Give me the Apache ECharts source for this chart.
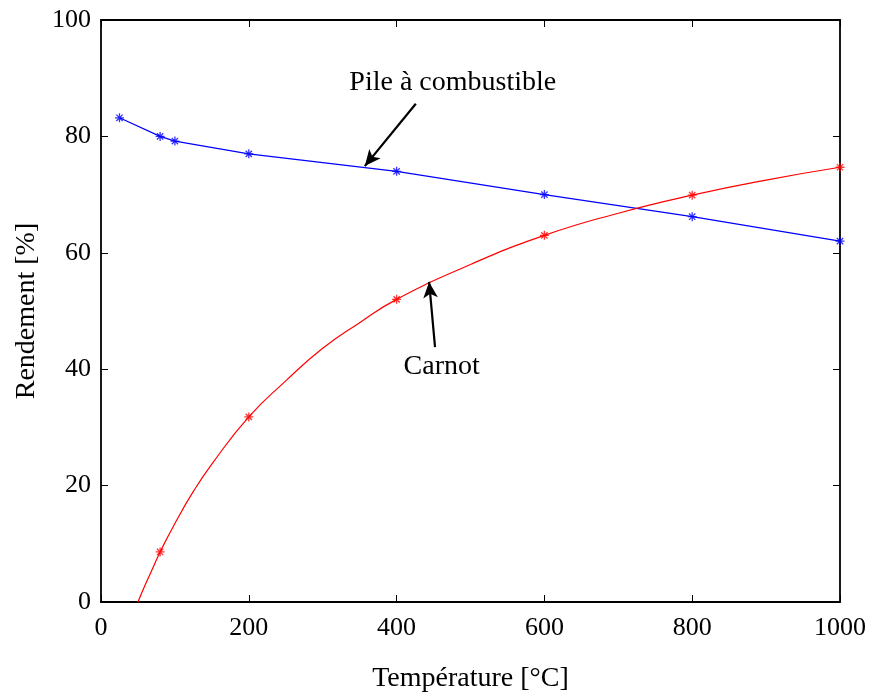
<!DOCTYPE html>
<html><head><meta charset="utf-8">
<script src="https://cdn.jsdelivr.net/npm/echarts@6/dist/echarts.min.js"></script>
<style>html,body{margin:0;padding:0;background:#fff}#c{width:870px;height:695px}</style>
</head><body><div id="c"></div>
<script>
// Pile à combustible (fuel cell) — measured points
const pileT = [25, 80, 100, 200, 400, 600, 800, 1000];
const pileEff = [83.2, 80.0, 79.2, 77.0, 74.0, 70.0, 66.2, 62.0];
// Carnot — marker points
const carnotT = [80, 200, 400, 600, 800, 1000];
const carnotEff = [8.6, 31.8, 52.0, 63.0, 69.9, 74.7];
// Carnot — curve readings
const carnotCurveT = [50, 60, 70, 80, 100, 125, 150, 200, 250, 300, 350, 400, 500, 600, 700, 800, 900, 1000];
const carnotCurveEff = [0, 3, 5.8, 8.6, 13.5, 19, 23.7, 31.8, 38, 43.6, 48, 52, 58, 63, 66.8, 69.9, 72.5, 74.7];
// tick labels
const xTicks = [0, 200, 400, 600, 800, 1000];
const yTicks = [0, 20, 40, 60, 80, 100];

const zip = (a, b) => a.map((v, i) => [v, b[i]]);
const star = 'path://M0,-1L0,1M-1,0L1,0M-0.7,-0.7L0.7,0.7M-0.7,0.7L0.7,-0.7';
const font = 'Liberation Serif';

const chart = echarts.init(document.getElementById('c'));
const axBase = {
  min: 0,
  axisLine: { show: true, onZero: false, lineStyle: { color: '#000', width: 1.8 } },
  axisTick: { show: true, inside: true, length: 7, lineStyle: { color: '#000', width: 1 } },
  splitLine: { show: false },
};
chart.setOption({
  animation: false,
  backgroundColor: '#fff',
  grid: { left: 101, right: 30, top: 20, bottom: 93, containLabel: false, outerBoundsMode: 'none' },
  xAxis: [
    Object.assign({}, axBase, { type: 'value', max: 1000, interval: 200, position: 'bottom',
      name: 'Température [°C]', nameLocation: 'middle', nameGap: 63,
      nameTextStyle: { fontFamily: font, fontSize: 28, color: '#000' },
      axisLabel: { fontFamily: font, fontSize: 26, color: '#000', margin: 13,
        formatter: v => xTicks.includes(v) ? String(v) : '' } }),
    Object.assign({}, axBase, { type: 'value', max: 1000, interval: 200, position: 'top',
      axisLabel: { show: false } })
  ],
  yAxis: [
    Object.assign({}, axBase, { type: 'value', max: 100, interval: 20, position: 'left',
      name: 'Rendement [%]', nameLocation: 'middle', nameGap: 55,
      nameTextStyle: { fontFamily: font, fontSize: 28, color: '#000' },
      axisLabel: { fontFamily: font, fontSize: 26, color: '#000', margin: 10,
        formatter: v => yTicks.includes(v) ? String(v) : '' } }),
    Object.assign({}, axBase, { type: 'value', max: 100, interval: 20, position: 'right',
      axisLabel: { show: false } })
  ],
  series: [
    { type: 'line', data: zip(pileT, pileEff), showSymbol: false,
      lineStyle: { color: '#0000ff', width: 1.2 }, z: 2,
      markLine: { silent: true, symbol: ['none', 'arrow'], symbolSize: [11, 16],
        lineStyle: { color: '#000', width: 2.2, type: 'solid' }, label: { show: false },
        data: [[{ coord: [426, 85.6] }, { coord: [357, 74.9] }],
               [{ coord: [452, 43.8] }, { coord: [444, 55.0] }]] },
      markPoint: { silent: true, symbol: 'circle', symbolSize: 0,
        label: { show: true, position: 'inside', fontFamily: font, fontSize: 28, color: '#000',
          formatter: p => p.name },
        data: [{ name: 'Pile à combustible', coord: [476, 89.3] },
               { name: 'Carnot', coord: [461, 40.4] }] } },
    { type: 'scatter', data: zip(pileT, pileEff), symbol: star, symbolSize: 9,
      itemStyle: { color: 'transparent', borderColor: '#0000ff', borderWidth: 1.3 }, z: 3 },
    { type: 'line', data: zip(carnotCurveT, carnotCurveEff), smooth: true, showSymbol: false,
      lineStyle: { color: '#ff0000', width: 1.2 }, z: 2 },
    { type: 'scatter', data: zip(carnotT, carnotEff), symbol: star, symbolSize: 9,
      itemStyle: { color: 'transparent', borderColor: '#ff0000', borderWidth: 1.3 }, z: 3 }
  ]
});
</script></body></html>
